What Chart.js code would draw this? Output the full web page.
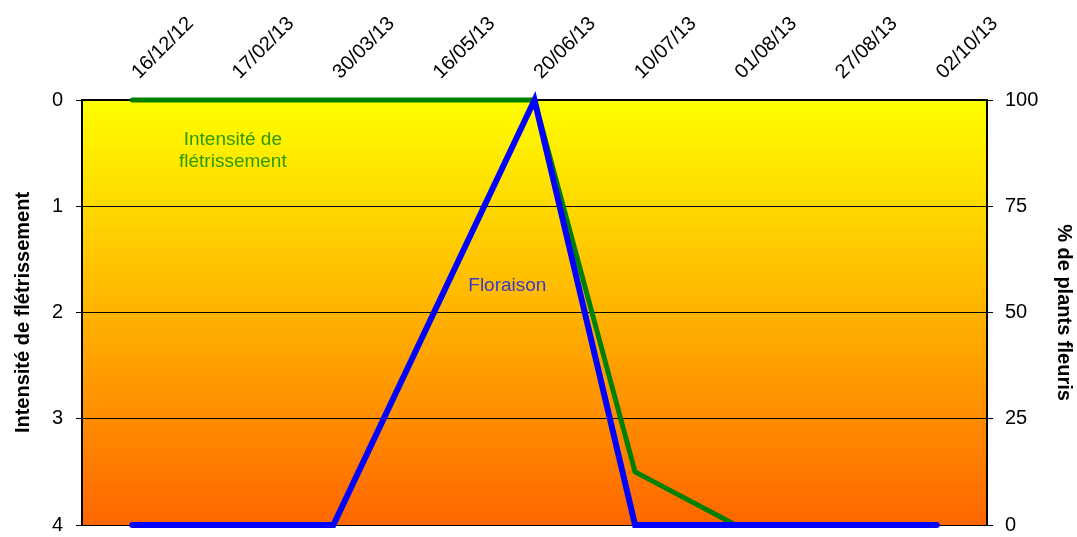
<!DOCTYPE html>
<html>
<head>
<meta charset="utf-8">
<script src="https://cdn.jsdelivr.net/npm/chart.js@4/dist/chart.umd.min.js"></script>
<style>
  html, body { margin: 0; padding: 0; background: #ffffff; }
  #wrap { width: 1077px; height: 537px; }
</style>
</head>
<body>
<div id="wrap"><canvas id="c" width="1077" height="537"></canvas></div>
<script>
// Sampling dates
const dates = ['16/12/12', '17/02/13', '30/03/13', '16/05/13', '20/06/13', '10/07/13', '01/08/13', '27/08/13', '02/10/13'];
// Wilting intensity (left axis, 0 at top)
const intensite = [0, 0, 0, 0, 0, 3.5, 4, 4, 4];
// Percentage of flowering plants (right axis)
const floraison = [0, 0, 0, 50, 100, 0, 0, 0, 0];
// Axis ticks
const leftTicks = [0, 1, 2, 3, 4];
const rightTicks = [0, 25, 50, 75, 100];

const FONT = "'Liberation Sans', Arial, sans-serif";

// Yellow-to-orange fill behind the plotting area
const plotBackground = {
  id: 'plotBackground',
  beforeDraw(chart) {
    const { ctx, chartArea: a } = chart;
    const g = ctx.createLinearGradient(0, a.top, 0, a.bottom);
    g.addColorStop(0, '#ffff00');
    g.addColorStop(1, '#ff6600');
    ctx.save();
    ctx.fillStyle = g;
    ctx.fillRect(a.left, a.top, a.right - a.left, a.bottom - a.top);
    ctx.restore();
  }
};

// Series captions written inside the plot
const captions = {
  id: 'captions',
  afterDatasetsDraw(chart) {
    const { ctx, scales } = chart;
    ctx.save();
    ctx.font = '19px ' + FONT;
    ctx.textAlign = 'center';
    ctx.textBaseline = 'middle';
    ctx.fillStyle = '#2f9a00';
    const xi = scales.x.getPixelForValue(1);
    ctx.fillText('Intensité de', xi, scales.y.getPixelForValue(0.37));
    ctx.fillText('flétrissement', xi, scales.y.getPixelForValue(0.58));
    ctx.fillStyle = '#3a3ac4';
    ctx.fillText('Floraison', scales.x.getPixelForValue(3.73), scales.y.getPixelForValue(1.75));
    ctx.restore();
  }
};

// Vertical axes: fixed width, no extra room reserved for the end labels
function fitVertical(width) {
  return function (s) {
    s.width = width;
    s.paddingTop = 0;
    s.paddingBottom = 0;
  };
}

new Chart(document.getElementById('c'), {
  type: 'line',
  data: {
    labels: dates,
    datasets: [
      {
        label: 'Floraison',
        data: floraison,
        yAxisID: 'y2',
        borderColor: '#0000ff',
        borderWidth: 6,
        borderCapStyle: 'round',
        pointRadius: 0,
        tension: 0,
        clip: false
      },
      {
        label: 'Intensité de flétrissement',
        data: intensite,
        yAxisID: 'y',
        borderColor: '#008000',
        borderWidth: 5,
        borderCapStyle: 'round',
        pointRadius: 0,
        tension: 0,
        clip: false
      }
    ]
  },
  options: {
    responsive: false,
    animation: false,
    devicePixelRatio: 1,
    layout: { padding: { top: 0, bottom: 12, left: 0, right: 0 } },
    plugins: { legend: { display: false }, tooltip: { enabled: false } },
    scales: {
      x: {
        type: 'category',
        position: 'top',
        offset: true,
        grid: { display: false, drawTicks: false },
        border: { display: true, color: '#000000', width: 2 },
        ticks: {
          color: '#000000',
          font: { family: FONT, size: 20 },
          minRotation: 45,
          maxRotation: 45,
          padding: 16,
          labelOffset: 20,
          autoSkip: false
        },
        afterFit(s) {
          s.height = 100;
          s.paddingLeft = 0;
          s.paddingRight = 0;
        }
      },
      y: {
        position: 'left',
        reverse: true,
        min: 0,
        max: 4,
        afterBuildTicks(s) { s.ticks = leftTicks.map(v => ({ value: v })); },
        grid: { color: '#000000', lineWidth: 1, drawTicks: true, tickLength: 6 },
        border: { display: true, color: '#000000', width: 2 },
        ticks: { color: '#000000', font: { family: FONT, size: 20 }, padding: 13 },
        title: {
          display: true,
          text: 'Intensité de flétrissement',
          color: '#000000',
          font: { family: FONT, size: 20, weight: 'bold' },
          padding: { top: 11, bottom: 0 }
        },
        afterFit: fitVertical(82)
      },
      y2: {
        position: 'right',
        min: 0,
        max: 100,
        afterBuildTicks(s) { s.ticks = rightTicks.map(v => ({ value: v })); },
        grid: { drawOnChartArea: false, color: '#000000', lineWidth: 1, drawTicks: true, tickLength: 6 },
        border: { display: true, color: '#000000', width: 2 },
        ticks: { color: '#000000', font: { family: FONT, size: 20 }, padding: 12 },
        title: {
          display: true,
          text: '% de plants fleuris',
          color: '#000000',
          font: { family: FONT, size: 20, weight: 'bold' },
          padding: { top: 1, bottom: 0 }
        },
        afterFit: fitVertical(90)
      }
    }
  },
  plugins: [plotBackground, captions]
});
</script>
</body>
</html>
